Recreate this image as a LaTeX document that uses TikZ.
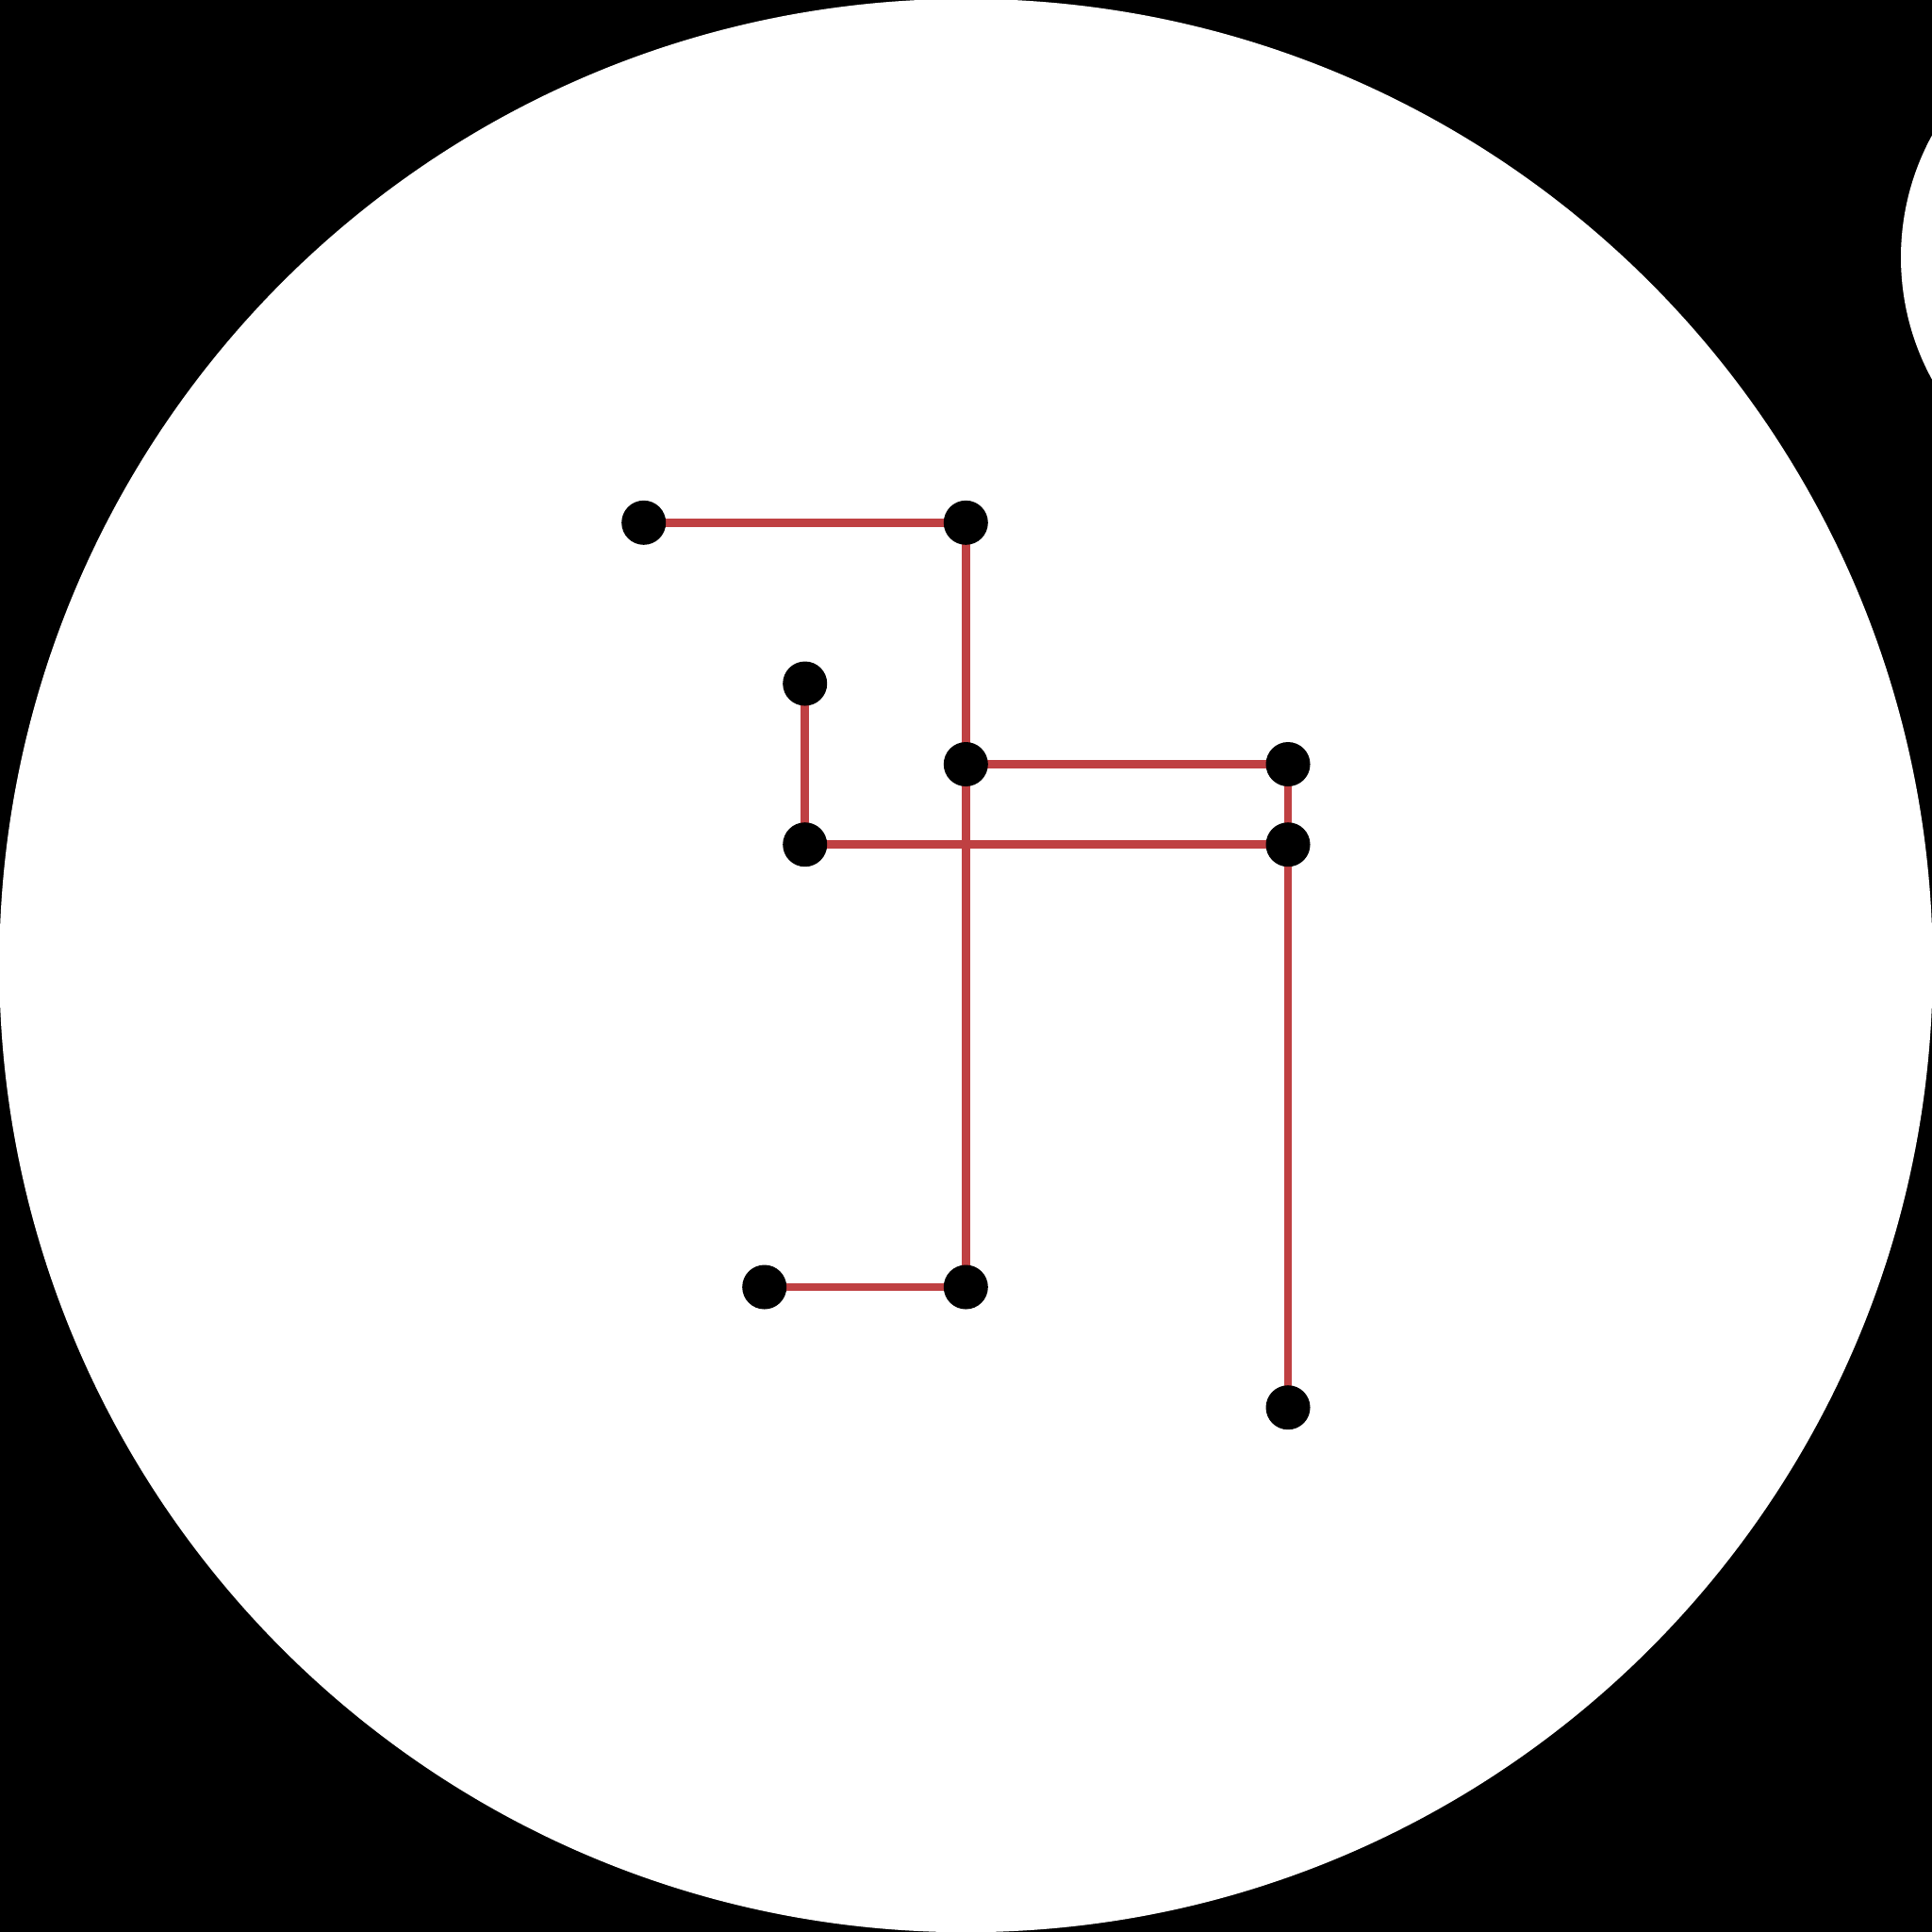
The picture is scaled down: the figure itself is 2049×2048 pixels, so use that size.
\documentclass[tikz,border=0pt]{standalone}
\usepackage{xcolor}
\usepackage{tikz}
\usetikzlibrary{positioning}
\definecolor{wirered}{RGB}{191,64,66}

\begin{document}
\begin{tikzpicture}[x=0.01cm, y=0.01cm,
    dot/.style={circle,fill=black,inner sep=0pt,minimum size=0.47cm},
    wire/.style={draw=wirered,line width=0.085cm}]
  \useasboundingbox (0,-2048) rectangle (2049,0);
  \fill[black] (-10,-2058) rectangle (2059,10);
  \fill[white] (1024.5,-1024) circle[radius=1025.2];
  \fill[white] (2286,-273) circle[radius=270];
  % junctions
  \coordinate (a) at (682.7,-554.3);
  \coordinate (b) at (1024.3,-554.3);
  \coordinate (c) at (853.7,-725);
  \coordinate (d) at (1024.3,-810.5);
  \coordinate (e) at (1366,-810.5);
  \coordinate (f) at (1366,-895.7);
  \coordinate (g) at (853.7,-895.7);
  \coordinate (h) at (810.7,-1365);
  \coordinate (i) at (1024.3,-1365);
  \coordinate (j) at (1366,-1492.7);
  % wires
  \draw[wire] (a) -- (b);
  \draw[wire] (b) -- (d);
  \draw[wire] (d) -- (i);
  \draw[wire] (d) -- (e);
  \draw[wire] (e) -- (f);
  \draw[wire] (c) -- (g);
  \draw[wire] (g) -- (f);
  \draw[wire] (f) -- (j);
  \draw[wire] (h) -- (i);
  % dots
  \foreach \p in {a,b,c,d,e,f,g,h,i,j}
    \node[dot] (\p dot) at (\p) {};
\end{tikzpicture}
\end{document}
